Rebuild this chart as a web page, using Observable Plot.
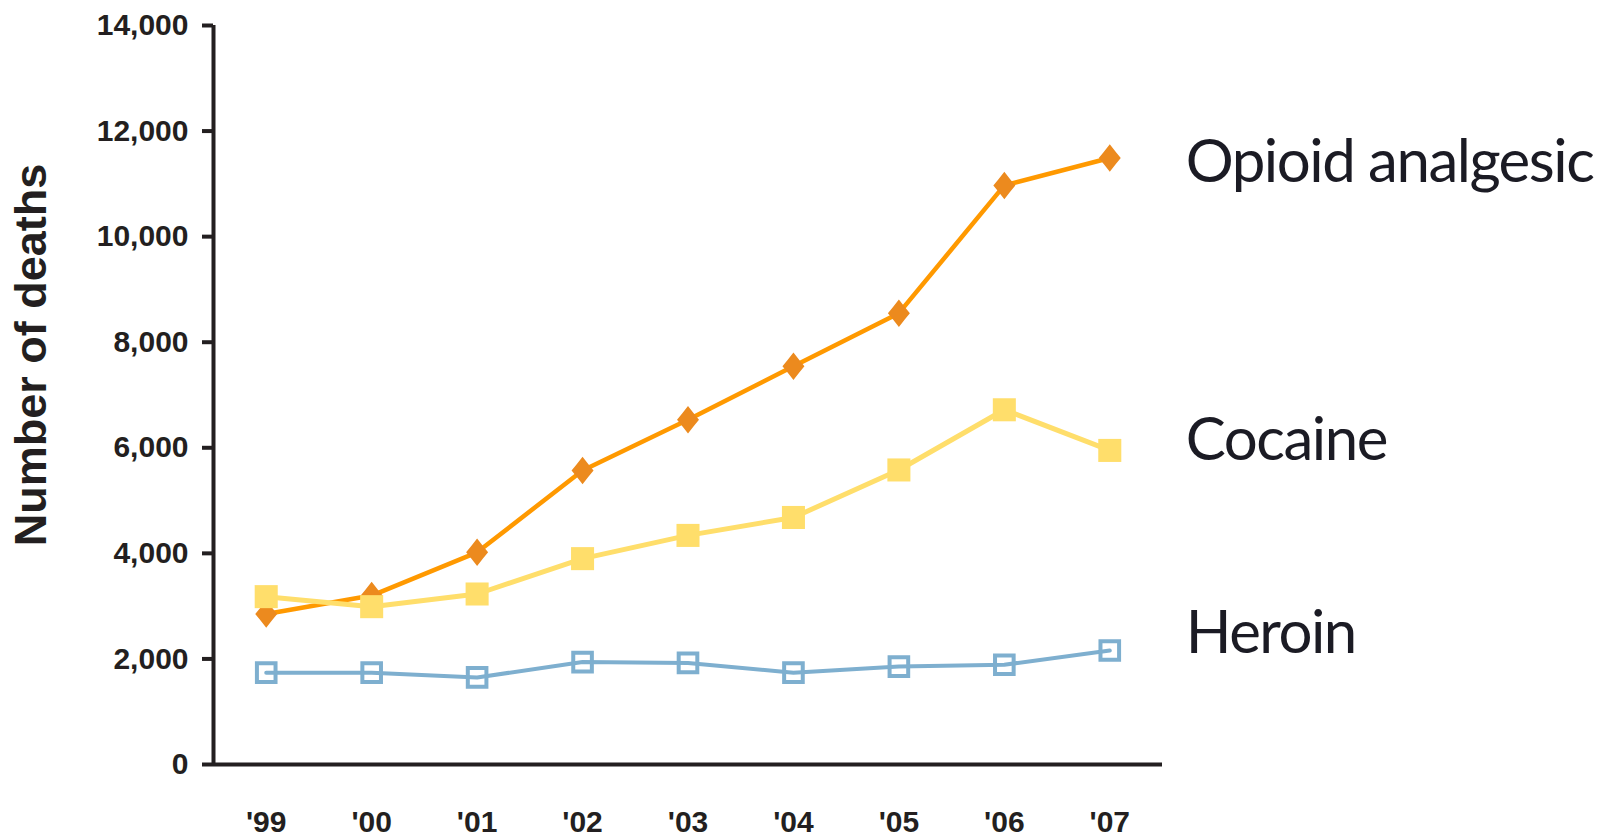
<!DOCTYPE html>
<html>
<head>
<meta charset="utf-8">
<script src="https://cdn.jsdelivr.net/npm/d3@7"></script>
<script src="https://cdn.jsdelivr.net/npm/@observablehq/plot@0.6"></script>
<style>
  body { margin: 0; background: #fff; }
</style>
</head>
<body>
<div id="chart"></div>
<script>
// Overdose deaths by drug type, 1999–2007
const years = [1999, 2000, 2001, 2002, 2003, 2004, 2005, 2006, 2007];
const yearLabels = ["'99", "'00", "'01", "'02", "'03", "'04", "'05", "'06", "'07"];
const seriesNames = ["Opioid analgesic", "Cocaine", "Heroin"];
const opioid = [2850, 3200, 4020, 5570, 6530, 7545, 8550, 10970, 11490];
const cocaine = [3180, 2990, 3230, 3900, 4340, 4680, 5580, 6720, 5950];
const heroin = [1740, 1740, 1650, 1940, 1925, 1740, 1855, 1890, 2160];
const yTicks = [0, 2000, 4000, 6000, 8000, 10000, 12000, 14000];
const yLabel = "Number of deaths";

// long-format table built from the arrays above
const rows = [];
[opioid, cocaine, heroin].forEach((vals, s) =>
  vals.forEach((v, i) => rows.push({series: seriesNames[s], year: years[i], deaths: v}))
);
const bySeries = (name) => rows.filter((d) => d.series === name);

// four-pointed star marker for the opioid series
const star4 = {
  draw(context, size) {
    const k = Math.sqrt(size / Math.PI);
    const t = 1.25 * k, a = 0.55 * k;
    context.moveTo(0, -t);
    context.lineTo(a, -a);
    context.lineTo(k, 0);
    context.lineTo(a, a);
    context.lineTo(0, t);
    context.lineTo(-a, a);
    context.lineTo(-k, 0);
    context.lineTo(-a, -a);
    context.closePath();
  }
};

const ink = "#231f20";
const colors = {opioidLine: "#ff9900", opioidDot: "#ec8a1e", cocaine: "#ffde6b", heroin: "#7eafcf"};
const labelFont = "Lato, 'Open Sans', sans-serif";

const labelOpts = (dy) => ({
  x: "year", y: "deaths", text: "series",
  dx: 76, dy, textAnchor: "start", lineAnchor: "middle",
  fontSize: 60, fontFamily: labelFont, fontWeight: "normal",
  fill: "#1b1b24"
});

const chart = Plot.plot({
  width: 1598,
  height: 839,
  marginLeft: 213,
  marginRight: 436,
  marginTop: 25,
  marginBottom: 75,
  style: {fontFamily: "'Liberation Sans', Arial, sans-serif", color: ink, background: "#fff", overflow: "visible"},
  x: {type: "linear", domain: [1998.5, 2007.5]},
  y: {domain: [0, 14000]},
  marks: [
    Plot.axisY({
      ticks: yTicks, tickSize: 11, tickPadding: 14, tickFormat: d3.format(","),
      fontSize: 30, fontWeight: "bold", strokeWidth: 4, label: null
    }),
    Plot.axisX({
      ticks: years, tickSize: 0, tickPadding: 46,
      tickFormat: (d) => yearLabels[years.indexOf(d)],
      fontSize: 30, fontWeight: "bold", label: null
    }),
    Plot.ruleX([1998.5], {y1: 0, y2: 14000, stroke: ink, strokeWidth: 4}),
    Plot.ruleY([0], {stroke: ink, strokeWidth: 4}),

    // Opioid analgesic
    Plot.line(bySeries("Opioid analgesic"), {x: "year", y: "deaths", stroke: colors.opioidLine, strokeWidth: 4.5}),
    Plot.dot(bySeries("Opioid analgesic"), {x: "year", y: "deaths", symbol: star4, r: 11, fill: colors.opioidDot, stroke: "none"}),

    // Cocaine
    Plot.line(bySeries("Cocaine"), {x: "year", y: "deaths", stroke: colors.cocaine, strokeWidth: 5}),
    Plot.dot(bySeries("Cocaine"), {x: "year", y: "deaths", symbol: "square", r: 13, fill: colors.cocaine, stroke: "none"}),

    // Heroin
    Plot.line(bySeries("Heroin"), {x: "year", y: "deaths", stroke: colors.heroin, strokeWidth: 4}),
    Plot.dot(bySeries("Heroin"), {x: "year", y: "deaths", symbol: "square", r: 10.5, fill: "none", stroke: colors.heroin, strokeWidth: 4}),

    // series labels at the end of each line
    Plot.text(bySeries("Opioid analgesic"), Plot.selectLast(labelOpts(5))),
    Plot.text(bySeries("Cocaine"), Plot.selectLast(labelOpts(-10))),
    Plot.text(bySeries("Heroin"), Plot.selectLast(labelOpts(-17))),

    // y-axis title
    Plot.text([yLabel], {
      text: (d) => d, frameAnchor: "left", dx: -182, dy: -40, rotate: -90,
      textAnchor: "middle", fontSize: 45, fontWeight: "bold", fill: ink
    })
  ]
});

// tighten the tracking of the end-of-line labels
d3.select(chart)
  .selectAll("text")
  .filter(function () {
    const g = this.closest("[font-family]");
    return g && String(g.getAttribute("font-family")).startsWith("Lato");
  })
  .style("letter-spacing", "-1.5px");
document.getElementById("chart").appendChild(chart);
</script>
</body>
</html>
